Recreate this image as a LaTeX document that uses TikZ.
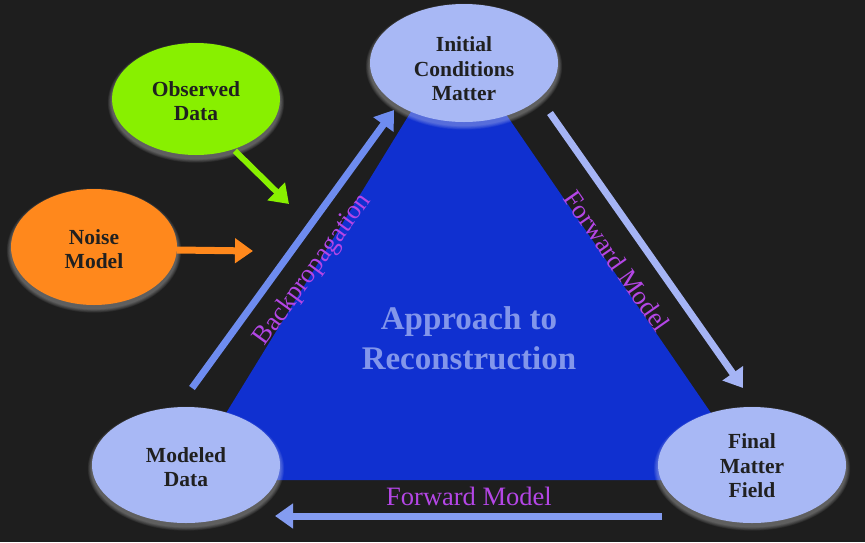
\documentclass[tikz,border=0pt]{standalone}
\usepackage{fontspec}
\setmainfont{Liberation Serif}
\usetikzlibrary{arrows.meta,shapes.geometric}

\definecolor{bgdark}{RGB}{30,30,30}
\definecolor{triblue}{RGB}{16,48,208}
\definecolor{paleblue}{RGB}{168,184,245}
\definecolor{limegreen}{RGB}{136,240,0}
\definecolor{noiseorange}{RGB}{255,136,28}
\definecolor{backblue}{RGB}{110,140,240}
\definecolor{fwdblue}{RGB}{165,180,245}
\definecolor{botblue}{RGB}{132,156,240}
\definecolor{labelpurple}{RGB}{180,70,230}
\definecolor{centertext}{RGB}{130,150,235}
\definecolor{inktext}{RGB}{32,32,32}

\tikzset{
  bubble/.style={ellipse, inner sep=0pt, text=inktext, align=center,
    font=\fontsize{21.5}{24.5}\selectfont\bfseries},
  fatarrow/.style={line width=7pt, -{Triangle[length=18pt,width=24pt]}},
  edgelabel/.style={text=labelpurple, font=\fontsize{26.5}{30}\selectfont},
}

% glowing ellipse: [text drop], name, x, y, rx, ry, fill colour, text
\newcommand{\glownode}[8][2]{%
  \foreach \g in {1,...,7}{%
    \fill[white,opacity=0.05] (#3,#4+3.5) ellipse [x radius={#5pt+\g*0.6pt}, y radius={#6pt+\g*0.6pt}];}
  \fill[#7] (#3,#4) ellipse [x radius=#5pt, y radius=#6pt];
  \node[bubble, minimum width={2*#5pt}, minimum height={2*#6pt}] (#2) at (#3,#4+#1) {#8};
}

\begin{document}
\begin{tikzpicture}[x=1pt,y=-1pt]
  \fill[bgdark] (0,0) rectangle (865,542);
  \useasboundingbox (0,0) rectangle (865,542);

  % central triangle
  \fill[triblue] (185,480) -- (757,480) -- (455,40) -- cycle;
  \node[text=centertext, align=center, font=\fontsize{33}{40}\selectfont\bfseries]
    (approach) at (469,338) {Approach to\\Reconstruction};

  % ellipses
  \glownode[6]{init}{464}{63}{94}{59}{paleblue}{Initial\\Conditions\\Matter}
  \glownode{obs}{196}{99}{84}{56}{limegreen}{Observed\\Data}
  \glownode{noise}{94}{247}{83}{58}{noiseorange}{Noise\\Model}
  \glownode{model}{186}{465}{94}{58}{paleblue}{Modeled\\Data}
  \glownode[1]{final}{752}{465}{94}{58}{paleblue}{Final\\Matter\\Field}

  % arrow end points
  \coordinate (obs-tip) at (289,204);
  \coordinate (noise-tip) at (253,251);
  \coordinate (bp-tail) at (192,388);
  \coordinate (bp-tip) at (394,110);
  \coordinate (fw-tail) at (550,113);
  \coordinate (fw-tip) at (743,388);
  \coordinate (bot-tail) at (662,516);
  \coordinate (bot-tip) at (275,516);

  % input arrows
  \draw[fatarrow, limegreen, line width=6pt] (obs.-52) -- (obs-tip);
  \draw[fatarrow, noiseorange] (noise.east) ++(0,1) -- (noise-tip);

  % cycle arrows
  \draw[fatarrow, backblue] (bp-tail) -- (bp-tip);
  \draw[fatarrow, fwdblue] (fw-tail) -- (fw-tip);
  \draw[fatarrow, botblue] (bot-tail) -- (bot-tip);

  % arrow labels
  \node[edgelabel, rotate=54] (bp-label) at (313,270) {Backpropagation};
  \node[edgelabel, rotate=-55] (fw-label) at (617,261) {Forward Model};
  \node[edgelabel] (bot-label) at (469,496) {Forward Model};
\end{tikzpicture}
\end{document}
